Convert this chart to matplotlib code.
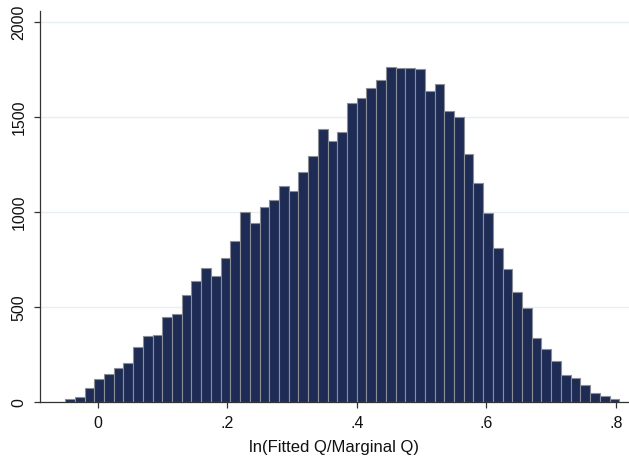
import numpy as np
import matplotlib
matplotlib.use("Agg")
import matplotlib.pyplot as plt

# Histogram of ln(Fitted Q / Marginal Q): bin layout and frequencies
bin_start = -0.05
bin_width = 0.015
counts = [17, 28, 78, 122, 150, 179, 209, 291, 348, 355,
          449, 466, 566, 640, 706, 666, 759, 848, 1001, 943,
          1027, 1062, 1138, 1113, 1213, 1297, 1436, 1373, 1422, 1575,
          1601, 1654, 1697, 1764, 1757, 1757, 1754, 1638, 1673, 1534,
          1502, 1308, 1155, 997, 811, 704, 580, 496, 341, 282,
          217, 146, 129, 90, 50, 36, 17]

x_ticks = [0, 0.2, 0.4, 0.6, 0.8]
x_tick_labels = ["0", ".2", ".4", ".6", ".8"]
y_ticks = [0, 500, 1000, 1500, 2000]
y_tick_labels = ["0", "500", "1000", "1500", "2000"]
x_label = "ln(Fitted Q/Marginal Q)"

plt.rcParams["font.family"] = ["Liberation Sans", "DejaVu Sans"]

fig = plt.figure(figsize=(6.29, 4.62), dpi=100)
ax = fig.add_axes([0.0631, 0.1288, 0.9369, 0.8474])

left_edges = bin_start + bin_width * np.arange(len(counts))
ax.bar(left_edges, counts, width=bin_width, align="edge",
       color="#1e2b55", edgecolor="#8a8e96", linewidth=0.8, zorder=3)

ax.set_xlim(-0.0892, 0.820)
ax.set_ylim(0, 2058)

ax.set_xticks(x_ticks)
ax.set_xticklabels(x_tick_labels)
ax.set_yticks(y_ticks)
ax.set_yticklabels(y_tick_labels, rotation=90, va="center")

ax.yaxis.grid(True, color="#e6eff2", linewidth=1.0, zorder=0)
ax.set_axisbelow(True)

for side in ("top", "right"):
    ax.spines[side].set_visible(False)
for side in ("left", "bottom"):
    ax.spines[side].set_color("#333333")
    ax.spines[side].set_linewidth(0.9)

ax.tick_params(axis="both", colors="#333333", length=4.5, width=0.9,
               labelsize=11.5, labelcolor="#111111", pad=5)

ax.set_xlabel(x_label, fontsize=12, color="#111111", labelpad=7)

fig.savefig("out.png", dpi=100, facecolor="white")
